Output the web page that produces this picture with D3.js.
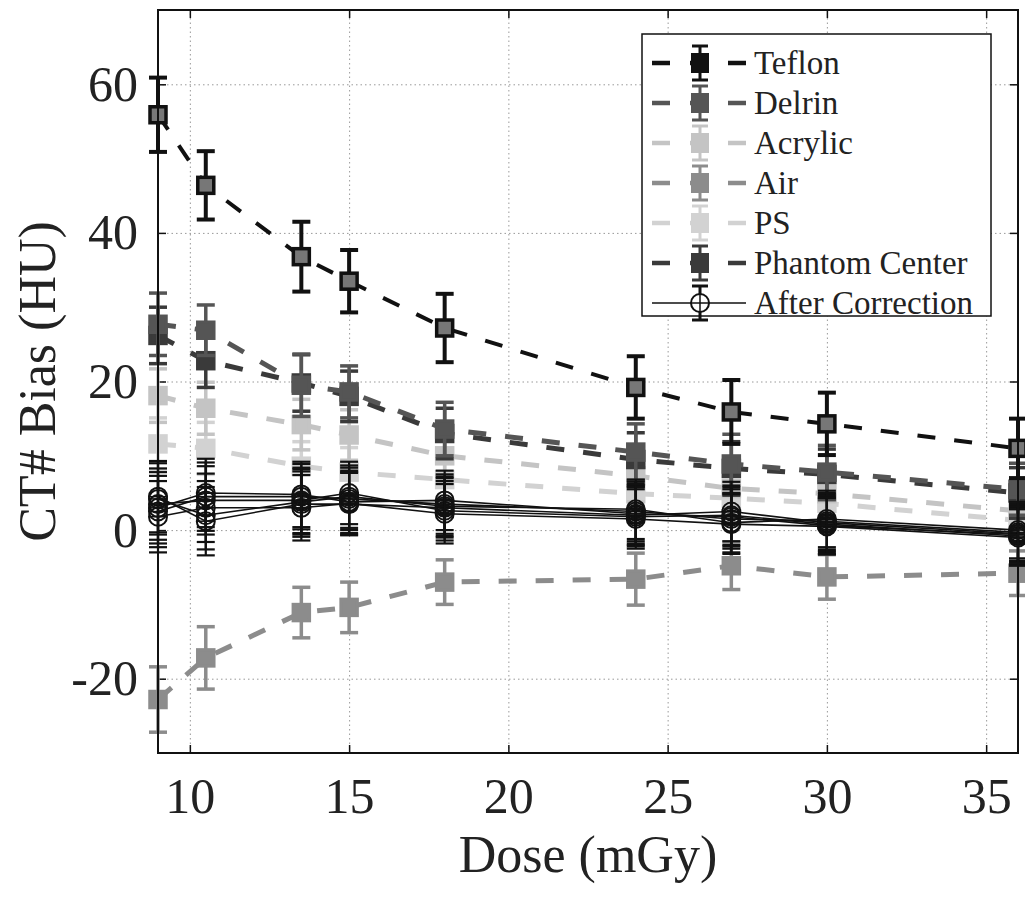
<!DOCTYPE html>
<html>
<head>
<script src="https://d3js.org/d3.v7.min.js"></script>
<style>
  body { margin: 0; background: #fff; }
  svg { display: block; font-family: 'Liberation Serif', 'Times New Roman', serif; }
  .grid line { stroke: #999; stroke-dasharray: 1.5,3; stroke-width: 1; }
  .grid .domain { display: none; }
  .lbl .domain, .lbl line { display: none; }
  .lbl text { font-size: 50px; fill: #222; font-family: 'Liberation Serif', serif; }
  .ticks .domain { display: none; }
  .ticks line { stroke: #111; stroke-width: 1.5; }
</style>
</head>
<body>
<script>
// dose values (mGy)
var dose = [9, 10.5, 13.5, 15, 18, 24, 27, 30, 36];

// uncorrected bias (HU) and error bars
var teflon     = [55.9, 46.4, 36.8, 33.5, 27.2, 19.2, 15.9, 14.3, 11.0];
var teflonErr  = [5.0, 4.6, 4.7, 4.2, 4.6, 4.2, 4.3, 4.2, 4.0];
var delrin     = [27.7, 26.9, 19.5, 18.6, 13.6, 10.5, 8.9, 7.8, 5.5];
var delrinErr  = [4.2, 3.4, 4.2, 3.5, 3.6, 3.8, 4.0, 3.6, 3.5];
var acrylic    = [18.1, 16.4, 14.2, 12.8, 10.0, 7.3, 5.6, 4.9, 2.6];
var acrylicErr = [3.6, 3.5, 3.4, 3.4, 3.2, 3.5, 3.4, 3.2, 3.2];
var air        = [-22.8, -17.2, -11.1, -10.4, -7.0, -6.6, -4.8, -6.3, -5.8];
var airErr     = [4.4, 4.2, 3.4, 3.4, 3.0, 3.5, 3.2, 3.0, 3.0];
var ps         = [11.6, 11.0, 8.6, 7.8, 6.8, 4.9, 4.3, 3.6, 1.3];
var psErr      = [3.5, 3.5, 3.3, 3.3, 3.2, 3.3, 3.2, 3.0, 3.0];
var phantom    = [26.2, 22.8, 19.8, 18.0, 13.0, 9.5, 8.3, 7.5, 5.0];
var phantomErr = [3.8, 3.6, 3.8, 3.4, 3.4, 3.6, 3.6, 3.4, 3.4];

// after correction (one line per insert)
var corr1 = [4.5, 1.2, 3.5, 3.5, 3.0, 2.0, 2.5, 1.0, -0.5];
var corr2 = [2.5, 4.5, 4.5, 4.2, 3.5, 2.5, 1.5, 1.2, -0.3];
var corr3 = [3.5, 4.0, 4.0, 5.0, 2.6, 1.8, 2.0, 0.8, -0.8];
var corr4 = [1.8, 3.0, 3.0, 3.6, 2.2, 1.5, 0.8, 0.5, -1.0];
var corr5 = [4.2, 2.0, 3.8, 4.5, 3.2, 2.8, 1.0, 1.5, 0.0];
var corr6 = [3.0, 5.0, 4.8, 3.8, 4.0, 2.2, 1.8, 0.6, -0.6];
var corrErr = [4.8, 4.6, 4.4, 4.2, 4.0, 4.0, 4.0, 3.8, 3.8];

var xTicks = [10, 15, 20, 25, 30, 35];
var yTicks = [-20, 0, 20, 40, 60];

var names = ["Teflon", "Delrin", "Acrylic", "Air", "PS", "Phantom Center"];
var colors = ["#111", "#555", "#c4c4c4", "#8c8c8c", "#d2d2d2", "#3a3a3a"];
var values = [teflon, delrin, acrylic, air, ps, phantom];
var errors = [teflonErr, delrinErr, acrylicErr, airErr, psErr, phantomErr];
var corrections = [corr1, corr2, corr3, corr4, corr5, corr6];

var W = 1025, H = 899;
var pL = 158, pR = 1018, pT = 10, pB = 753;

var svg = d3.select("body").append("svg").attr("width", W).attr("height", H);

var x = d3.scaleLinear().domain([9, 36]).range([pL, pR]);
var y = d3.scaleLinear().domain([-30, 70]).range([pB, pT]);

// grid
svg.append("g").attr("class", "grid")
  .attr("transform", "translate(0," + pB + ")")
  .call(d3.axisBottom(x).tickValues(xTicks).tickSize(-(pB - pT)).tickFormat(""));
svg.append("g").attr("class", "grid")
  .attr("transform", "translate(" + pL + ",0)")
  .call(d3.axisLeft(y).tickValues(yTicks).tickSize(-(pR - pL)).tickFormat(""));

// tick labels
svg.append("g").attr("class", "lbl")
  .attr("transform", "translate(0," + pB + ")")
  .call(d3.axisBottom(x).tickValues(xTicks).tickSize(0).tickPadding(24).tickFormat(d3.format("d")));
svg.append("g").attr("class", "lbl")
  .attr("transform", "translate(" + pL + ",0)")
  .call(d3.axisLeft(y).tickValues(yTicks).tickSize(0).tickPadding(20).tickFormat(function(d){ return d < 0 ? "-" + (-d) : d; }));

// inward ticks on all sides
svg.append("g").attr("class", "ticks").attr("transform", "translate(0," + pB + ")")
  .call(d3.axisBottom(x).tickValues(xTicks).tickSize(-8).tickFormat(""));
svg.append("g").attr("class", "ticks").attr("transform", "translate(0," + pT + ")")
  .call(d3.axisTop(x).tickValues(xTicks).tickSize(-8).tickFormat(""));
svg.append("g").attr("class", "ticks").attr("transform", "translate(" + pL + ",0)")
  .call(d3.axisLeft(y).tickValues(yTicks).tickSize(-8).tickFormat(""));
svg.append("g").attr("class", "ticks").attr("transform", "translate(" + pR + ",0)")
  .call(d3.axisRight(y).tickValues(yTicks).tickSize(-8).tickFormat(""));

var plot = svg.append("g");

function drawErrorBars(g, vals, errs, color, sw, cap) {
  var eb = g.append("g").attr("stroke", color).attr("stroke-width", sw);
  dose.forEach(function(d, i) {
    var cx = x(d), y0 = y(vals[i] - errs[i]), y1 = y(vals[i] + errs[i]);
    eb.append("line").attr("x1", cx).attr("x2", cx).attr("y1", y0).attr("y2", y1);
    eb.append("line").attr("x1", cx - cap).attr("x2", cx + cap).attr("y1", y0).attr("y2", y0);
    eb.append("line").attr("x1", cx - cap).attr("x2", cx + cap).attr("y1", y1).attr("y2", y1);
  });
}

var line = d3.line().x(function(d, i){ return x(dose[i]); }).y(function(d){ return y(d); });

// uncorrected series, lightest drawn first
var order = [4, 2, 3, 5, 1, 0];
order.forEach(function(k) {
  var g = plot.append("g");
  var c = colors[k];
  g.append("path").datum(values[k])
    .attr("d", line).attr("fill", "none").attr("stroke", c)
    .attr("stroke-width", k === 0 ? 4 : 5)
    .attr("stroke-dasharray", "18,19");
  drawErrorBars(g, values[k], errors[k], c, k === 0 ? 4 : 3.5, 9);
  g.selectAll("rect").data(values[k]).enter().append("rect")
    .attr("x", function(d, i){ return x(dose[i]) - 8; })
    .attr("y", function(d){ return y(d) - 8; })
    .attr("width", 16).attr("height", 16)
    .attr("fill", k === 0 ? "#777" : c)
    .attr("stroke", c).attr("stroke-width", 3.5);
});

// after correction
corrections.forEach(function(vals) {
  var g = plot.append("g");
  g.append("path").datum(vals).attr("d", line)
    .attr("fill", "none").attr("stroke", "#111").attr("stroke-width", 1.6);
  drawErrorBars(g, vals, corrErr, "#111", 2.2, 9);
  var m = g.selectAll("g.m").data(vals).enter().append("g")
    .attr("transform", function(d, i){ return "translate(" + x(dose[i]) + "," + y(d) + ")"; });
  m.append("circle").attr("r", 9).attr("fill", "none").attr("stroke", "#111").attr("stroke-width", 2);
  m.append("line").attr("x1", -9).attr("x2", 9).attr("stroke", "#111").attr("stroke-width", 1.5);
  m.append("line").attr("y1", -9).attr("y2", 9).attr("stroke", "#111").attr("stroke-width", 1.5);
});

// axis box
svg.append("rect").attr("x", pL).attr("y", pT)
  .attr("width", pR - pL).attr("height", pB - pT)
  .attr("fill", "none").attr("stroke", "#111").attr("stroke-width", 2);

// axis titles
svg.append("text").attr("x", (pL + pR) / 2).attr("y", 872)
  .attr("text-anchor", "middle").attr("font-size", 52).attr("fill", "#222")
  .text("Dose (mGy)");
svg.append("text").attr("transform", "translate(55," + ((pT + pB) / 2) + ") rotate(-90)")
  .attr("text-anchor", "middle").attr("font-size", 52).attr("fill", "#222")
  .text("CT# Bias (HU)");

// legend
var lg = svg.append("g").attr("transform", "translate(642,34)");
lg.append("rect").attr("width", 349).attr("height", 282)
  .attr("fill", "#fff").attr("stroke", "#111").attr("stroke-width", 1.5);
var rowH = 40;
names.concat(["After Correction"]).forEach(function(name, i) {
  var cy = 29 + i * rowH;
  var row = lg.append("g").attr("transform", "translate(0," + cy + ")");
  var corr = i === names.length;
  var c = corr ? "#111" : colors[i];
  row.append("line").attr("x1", 10).attr("x2", 104)
    .attr("stroke", c).attr("stroke-width", corr ? 1.6 : 4.5)
    .attr("stroke-dasharray", corr ? null : "18,20");
  row.append("line").attr("x1", 58).attr("x2", 58).attr("y1", -17).attr("y2", 17)
    .attr("stroke", c).attr("stroke-width", 3);
  row.append("line").attr("x1", 50).attr("x2", 66).attr("y1", -17).attr("y2", -17).attr("stroke", c).attr("stroke-width", 3);
  row.append("line").attr("x1", 50).attr("x2", 66).attr("y1", 17).attr("y2", 17).attr("stroke", c).attr("stroke-width", 3);
  if (corr) {
    row.append("circle").attr("cx", 58).attr("r", 9).attr("fill", "#fff").attr("stroke", c).attr("stroke-width", 2);
    row.append("line").attr("x1", 49).attr("x2", 67).attr("stroke", c).attr("stroke-width", 1.5);
    row.append("line").attr("x1", 58).attr("x2", 58).attr("y1", -9).attr("y2", 9).attr("stroke", c).attr("stroke-width", 1.5);
  } else {
    row.append("rect").attr("x", 50).attr("y", -9).attr("width", 16).attr("height", 18)
      .attr("fill", c).attr("stroke", c).attr("stroke-width", 2);
  }
  row.append("text").attr("x", 112).attr("y", 11)
    .attr("font-size", 33).attr("fill", "#222").text(name);
});
</script>
</body>
</html>
